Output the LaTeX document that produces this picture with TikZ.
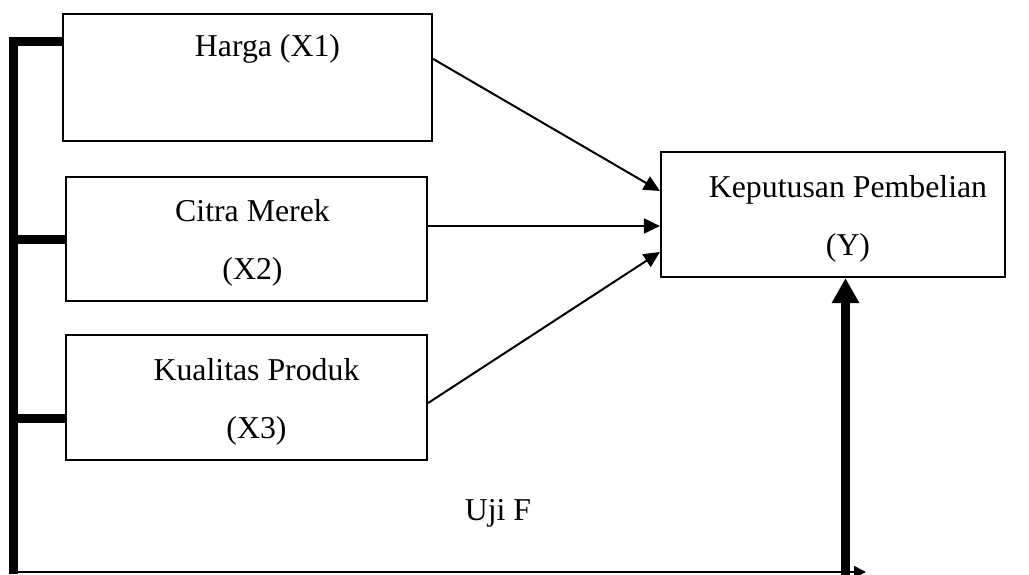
\documentclass[tikz,border=0pt]{standalone}
\usepackage{fontspec}
\setmainfont{Liberation Serif}
\usetikzlibrary{arrows.meta}

\begin{document}
\begin{tikzpicture}[x=0.5pt,y=-0.5pt,
  var/.style={draw,line width=1.1pt,rectangle,inner sep=0pt},
  txt/.style={align=center,inner sep=0pt,font=\fontsize{15.9}{29}\selectfont},
  link/.style={line width=1pt,-{Triangle[length=8pt,width=7.5pt]}},
  bus/.style={line width=4.5pt}]

  \useasboundingbox (0,0) rectangle (1029,574);

  % variables
  \node[var,minimum width=184.5pt,minimum height=63.5pt] at (247.5,77.5) (x1){};
  \node[var,minimum width=180.5pt,minimum height=62pt] at (246.5,239) (x2){};
  \node[var,minimum width=180.5pt,minimum height=62.5pt] at (246.5,397.5) (x3){};
  \node[var,minimum width=172pt,minimum height=62.5pt] at (833,214.5) (kp){};

  \node[txt] at ([xshift=10pt,yshift=2pt]x1.center) (x1t) {\strut Harga (X1)\\\strut};
  \node[txt] at ([xshift=3pt]x2.center) (x2t) {\strut Citra Merek\\\strut (X2)};
  \node[txt] at ([xshift=5pt]x3.center) (x3t) {\strut Kualitas Produk\\\strut (X3)};
  \node[txt] at ([xshift=7.5pt]kp.center) (kpt) {\strut Keputusan Pembelian\\\strut (Y)};
  \node[txt] at (498,513) (uji) {Uji F};

  % partial effects
  \draw[link] ([yshift=-23pt]x1.north east) -- ([yshift=11.75pt]kp.west);
  \draw[link] ([yshift=6.5pt]x2.east) -- ([yshift=-5.75pt]kp.west);
  \draw[link] ([yshift=-2.75pt]x3.east) -- ([yshift=-18.75pt]kp.west);

  % simultaneous effect (F test)
  \coordinate (bt) at (13.5,41);
  \coordinate (bb) at (13.5,574);
  \draw[bus] (x1.west |- bt) -| (bb);
  \draw[bus] (x2.west) -- (x2.west -| bb);
  \draw[bus] ([yshift=-10.25pt]x3.west) coordinate (k3) -- (k3 -| bb);

  \coordinate (fe) at (866,572);
  \draw[line width=0.85pt,-{Triangle[length=6pt,width=6pt]}] ([yshift=1pt]bb) -- (fe);
  %\draw[->] (fe) -- (kp.south);
  \coordinate (fb) at (845.5,580);
  \draw[bus,-{Triangle[length=12.5pt,width=13pt]}] (fb) -- (fb |- kp.south);

\end{tikzpicture}
\end{document}
